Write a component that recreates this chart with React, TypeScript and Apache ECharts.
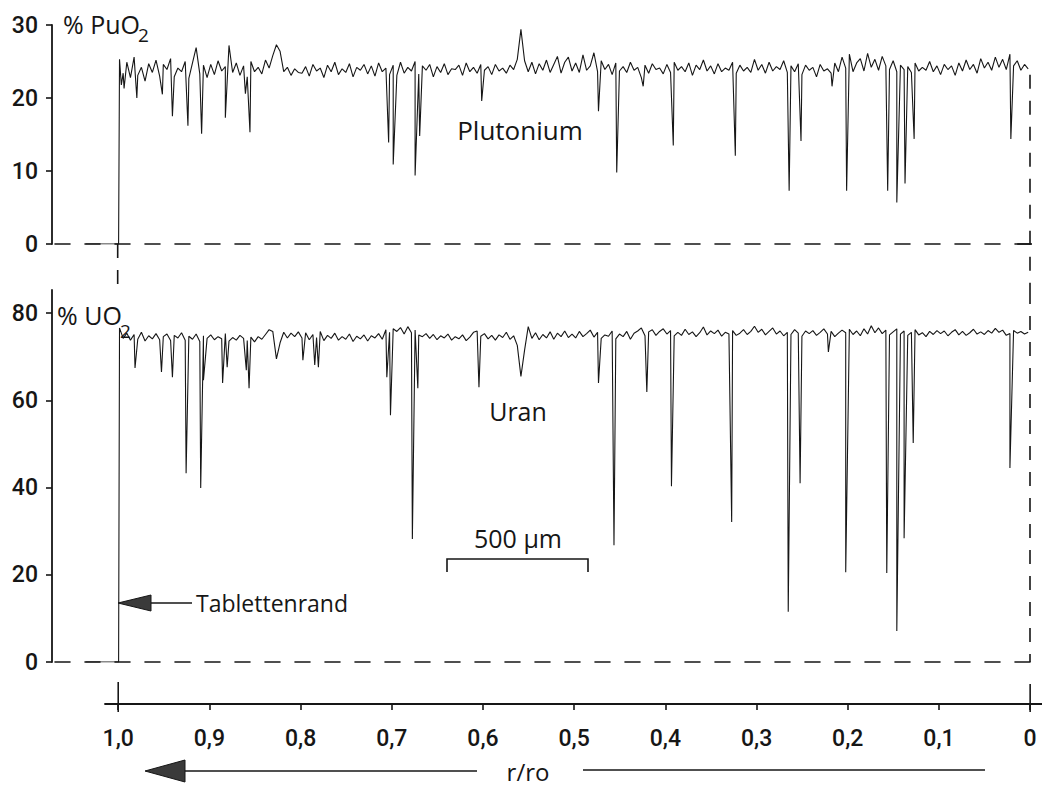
import React, { useEffect, useRef } from 'react';
import * as echarts from 'echarts';

// radial position sampling of the baseline trace (r/ro, decreasing)
const R_START = 0.998;
const R_STEP = 0.004;
// flat zero part left of the pellet edge
const LEAD_IN: number[][] = [[1.035, 0], [0.999, 0]];

// % PuO2 baseline readings (250 samples from r=0.998 to r=0.002)
const PU_BASE: number[] = [
  25.3, 23.4, 24.9, 22.8, 25.6, 23.1, 24.2, 22.3, 24.7, 23.5, 25.2, 23.0, 24.6, 23.9, 25.4, 22.9, 24.1, 23.6, 25.0, 22.7, 24.8, 26.9, 23.3, 24.5, 22.8,
  24.6, 23.2, 25.1, 23.7, 24.3, 27.2, 23.5, 24.8, 23.1, 24.4, 22.9, 25.0, 23.6, 24.2, 23.3, 25.2, 24.1, 25.8, 27.3, 26.4, 23.6, 24.2, 23.1, 24.0, 23.5,
  23.4, 24.3, 23.0, 24.6, 23.7, 24.1, 22.8, 24.5, 23.6, 24.9, 23.2, 24.0, 23.5, 24.7, 22.9, 24.2, 23.8, 24.6, 23.3, 24.4, 23.0, 24.8, 23.6, 24.1, 23.2,
  24.5, 23.1, 24.9, 23.4, 24.2, 23.7, 25.0, 23.3, 24.4, 23.8, 24.6, 22.9, 24.3, 23.5, 24.7, 23.2, 24.0, 23.9, 24.5, 23.1, 24.8, 23.6, 24.2, 23.4, 24.6,
  23.8, 24.3, 23.2, 24.6, 23.7, 24.1, 23.4, 24.5, 23.9, 25.3, 29.4, 25.1, 23.6, 24.9, 23.3, 24.7, 23.8, 25.2, 23.5, 24.6, 25.7, 23.4, 24.9, 25.6, 23.7,
  24.8, 23.5, 25.9, 23.8, 24.4, 26.2, 23.6, 25.1, 23.9, 24.6, 23.2, 24.8, 23.7, 24.3, 23.5, 24.9, 23.8, 24.2, 22.8, 24.5, 23.4, 24.7, 23.9, 24.1, 23.3,
  24.6, 23.5, 24.9, 23.8, 24.3, 23.6, 24.8, 23.1, 24.5, 23.9, 25.2, 23.7, 24.4, 23.3, 24.7, 23.6, 24.1, 23.8, 24.9, 23.4, 24.5, 23.7, 24.2, 23.5, 25.3,
  23.8, 24.6, 23.4, 24.9, 23.7, 24.3, 23.9, 25.1, 23.5, 24.4, 23.6, 24.7, 23.2, 24.5, 23.8, 24.2, 22.9, 24.6, 23.7, 24.0, 23.4, 24.8, 23.6, 25.6, 24.1,
  26.0, 23.6, 24.8, 25.4, 23.7, 26.1, 24.2, 25.3, 23.8, 25.7, 24.4, 23.9, 25.1, 23.6, 24.5, 23.9, 24.3, 23.5, 24.8, 23.7, 24.2, 23.8, 25.0, 23.6, 24.4,
  23.2, 24.6, 23.9, 24.4, 23.1, 24.8, 23.7, 25.2, 23.9, 24.6, 23.4, 25.4, 24.1, 24.9, 23.8, 25.6, 24.2, 25.3, 23.9, 26.0, 24.4, 25.1, 23.8, 24.6, 24.0,
];

// % PuO2 narrow minima [r/ro, value]
const PU_DIPS: number[][] = [
  [0.996, 21.8], [0.993, 21.3], [0.979, 20.0], [0.951, 20.5], [0.940, 17.5], [0.923, 16.2],
  [0.908, 15.1], [0.882, 17.3], [0.860, 20.6], [0.855, 15.3], [0.703, 13.9], [0.698, 10.9],
  [0.674, 9.4], [0.669, 14.8], [0.601, 19.6], [0.473, 18.2], [0.453, 9.8], [0.424, 21.6],
  [0.391, 13.5], [0.323, 12.1], [0.264, 7.3], [0.251, 14.1], [0.217, 21.6], [0.201, 7.3],
  [0.156, 7.3], [0.146, 5.7], [0.137, 8.3], [0.127, 14.4], [0.021, 14.4],
];

// % UO2 baseline readings (250 samples from r=0.998 to r=0.002)
const U_BASE: number[] = [
  76.6, 74.2, 75.4, 73.8, 75.1, 74.0, 75.6, 73.6, 74.8, 74.1, 75.3, 73.9, 74.6, 75.2, 73.7, 74.9, 74.3, 75.5, 73.8, 74.7, 74.0, 75.2, 73.5, 74.8, 74.2,
  75.0, 73.9, 74.6, 74.1, 75.3, 73.6, 74.4, 73.8, 74.9, 74.2, 73.7, 74.5, 73.4, 74.6, 74.0, 75.1, 76.2, 75.8, 69.5, 73.2, 75.6, 74.3, 75.4, 74.6, 75.7,
  74.3, 75.5, 73.9, 75.1, 74.4, 75.8, 73.7, 74.9, 74.2, 75.4, 73.8, 74.6, 74.0, 75.2, 73.5, 74.7, 74.1, 75.0, 73.6, 74.8, 74.3, 75.3, 74.0, 76.2, 75.6,
  76.4, 75.8, 76.7, 75.2, 76.9, 75.5, 76.1, 75.0, 74.6, 75.3, 74.2, 75.1, 73.9, 74.8, 74.3, 75.2, 73.8, 74.6, 74.1, 75.0, 73.7, 74.5, 75.6, 75.9, 74.7,
  75.3, 74.1, 74.9, 73.8, 75.0, 74.4, 75.6, 74.0, 74.8, 72.6, 65.5, 71.5, 76.9, 74.2, 75.5, 73.9, 75.1, 74.3, 75.7, 74.0, 75.4, 74.6, 75.9, 74.4, 75.2,
  74.3, 75.8, 74.6, 75.3, 76.1, 74.5, 75.6, 74.2, 75.0, 74.7, 75.9, 74.1, 75.2, 74.6, 75.8, 74.0, 75.4, 75.9, 76.6, 74.8, 75.7, 76.2, 74.9, 75.8, 76.4,
  75.2, 76.0, 74.8, 75.6, 74.9, 76.3, 75.1, 75.7, 74.6, 75.5, 76.8, 75.0, 75.9, 75.3, 76.1, 74.7, 75.6, 75.2, 76.0, 74.9, 75.4, 76.2, 75.1, 75.8, 77.0,
  75.6, 76.3, 75.0, 75.8, 76.6, 75.2, 75.9, 74.8, 75.6, 75.1, 76.2, 75.4, 74.7, 75.9, 75.3, 76.0, 74.9, 75.6, 76.4, 75.2, 75.8, 74.6, 75.4, 76.1, 75.5,
  76.3, 75.1, 75.9, 74.8, 76.4, 75.2, 77.1, 75.5, 76.6, 75.3, 76.1, 75.0, 75.7, 76.4, 75.2, 75.9, 74.9, 75.6, 76.2, 75.0, 75.5, 74.6, 75.8, 75.1, 76.0,
  75.3, 75.9, 74.8, 75.6, 76.2, 75.0, 75.8, 74.9, 75.5, 76.3, 75.2, 75.7, 75.1, 76.0, 75.4, 76.5, 75.6, 76.1, 74.9, 75.3, 76.0, 75.4, 75.8, 75.2, 75.6,
];

// % UO2 narrow minima [r/ro, value]
const U_DIPS: number[][] = [
  [0.981, 67.4], [0.952, 66.5], [0.940, 65.3], [0.925, 43.3], [0.909, 39.9], [0.906, 64.6],
  [0.885, 64.0], [0.880, 67.6], [0.859, 66.9], [0.856, 62.8], [0.797, 69.2], [0.784, 68.1],
  [0.780, 67.6], [0.705, 65.3], [0.701, 56.6], [0.677, 28.2], [0.671, 62.8], [0.604, 63.0],
  [0.473, 64.0], [0.456, 26.8], [0.420, 61.9], [0.393, 40.3], [0.327, 32.1], [0.265, 11.5],
  [0.252, 41.0], [0.221, 71.1], [0.202, 20.6], [0.157, 20.4], [0.146, 7.1], [0.138, 28.4],
  [0.128, 50.2], [0.022, 44.5],
];

const X_TICKS = [0, 0.1, 0.2, 0.3, 0.4, 0.5, 0.6, 0.7, 0.8, 0.9, 1.0];
const PU_TICKS = [0, 10, 20, 30];
const U_TICKS = [0, 20, 40, 60, 80];

const INK = '#161616';
const NUM_FONT = 'Roboto';
const TXT_FONT = 'Open Sans';

function buildTrace(base: number[], dips: number[][]): number[][] {
  const pts = base.map((v, i) => [+(R_START - i * R_STEP).toFixed(4), v]);
  const merged = pts.concat(dips).sort((a, b) => b[0] - a[0]);
  return LEAD_IN.concat(merged);
}

function auxLine(xi: number, yi: number, data: number[][], dashed: boolean) {
  return {
    type: 'line',
    xAxisIndex: xi,
    yAxisIndex: yi,
    data,
    symbol: 'none',
    silent: true,
    clip: false,
    lineStyle: { color: INK, width: 1.6, type: dashed ? [14, 12] : 'solid' },
    z: 3,
  };
}

function yAxisCfg(grid: number, max: number, ticks: number[]) {
  return {
    gridIndex: grid,
    type: 'value',
    min: 0,
    max,
    axisLine: { show: true, onZero: false, lineStyle: { color: INK, width: 1.8 } },
    axisTick: { show: true, length: 6, customValues: ticks, lineStyle: { color: INK, width: 1.6 } },
    axisLabel: {
      customValues: ticks,
      margin: 14,
      fontSize: 23,
      fontFamily: NUM_FONT,
      fontWeight: 500,
      color: INK,
    },
    splitLine: { show: false },
  };
}

function hiddenX(grid: number) {
  return {
    gridIndex: grid,
    type: 'value',
    min: 0,
    max: 1.072,
    inverse: true,
    axisLine: { show: true, lineStyle: { color: INK, width: 1.6, type: [15, 15] } },
    axisTick: { show: false },
    axisLabel: { show: false },
    splitLine: { show: false },
  };
}

export default function App() {
  const ref = useRef<HTMLDivElement>(null);
  useEffect(() => {
    if (!ref.current) return;
    const chart = echarts.init(ref.current, null, { renderer: 'svg' });
    const txt = (x: number, y: number, text: string, size: number, align = 'left') => ({
      type: 'text',
      x,
      y,
      silent: true,
      style: {
        text,
        x: 0,
        y: 0,
        fill: INK,
        fontSize: size,
        fontFamily: TXT_FONT,
        align,
        textAlign: align,
        verticalAlign: 'middle',
        textVerticalAlign: 'middle',
      },
    });
    const option = {
      animation: false,
      backgroundColor: '#ffffff',
      grid: [
        { left: 52, top: 25, width: 978, height: 219 },
        { left: 52, top: 290, width: 978, height: 372 },
        { left: 105, top: 682, width: 937, height: 30 },
      ],
      xAxis: [
        hiddenX(0),
        hiddenX(1),
        {
          gridIndex: 2,
          type: 'value',
          min: -0.013,
          max: 1.0145,
          inverse: true,
          axisLine: { show: true, onZero: true, lineStyle: { color: INK, width: 1.8 } },
          axisTick: { show: true, length: 6, customValues: X_TICKS, lineStyle: { color: INK, width: 1.6 } },
          axisLabel: {
            customValues: X_TICKS,
            margin: 15,
            fontSize: 23,
            fontFamily: NUM_FONT,
            fontWeight: 500,
            color: INK,
            formatter: (v: number) => (v === 0 ? '0' : v.toFixed(1).replace('.', ',')),
          },
          splitLine: { show: false },
        },
      ],
      yAxis: [
        yAxisCfg(0, 30, PU_TICKS),
        yAxisCfg(1, 85.3, U_TICKS),
        { gridIndex: 2, type: 'value', min: -8, max: 22, show: false },
      ],
      series: [
        {
          type: 'line',
          name: 'Plutonium',
          xAxisIndex: 0,
          yAxisIndex: 0,
          data: buildTrace(PU_BASE, PU_DIPS),
          symbol: 'none',
          lineStyle: { color: INK, width: 1.1 },
          z: 4,
        },
        {
          type: 'line',
          name: 'Uran',
          xAxisIndex: 1,
          yAxisIndex: 1,
          data: buildTrace(U_BASE, U_DIPS),
          symbol: 'none',
          lineStyle: { color: INK, width: 1.1 },
          z: 4,
        },
        // r = 0 dashed guide through both panels
        auxLine(0, 0, [[0, 23.2], [0, -6.3]], true),
        auxLine(1, 1, [[0, 85.3], [0, 0]], true),
        // r = 1 dashed guide between panels
        auxLine(0, 0, [[1, 0], [1, -6.3]], true),
        // cross at r = 0 on the Pu zero line
        auxLine(0, 0, [[0.014, 0], [-0.013, 0]], false),
        // crosses on the bottom r/ro axis
        auxLine(2, 2, [[1, 22], [1, -8]], false),
        auxLine(2, 2, [[0, 20], [0, -8]], false),
      ],
      graphic: [
        txt(63, 24, '% PuO', 25),
        txt(138, 35, '2', 19),
        txt(57, 315, '% UO', 25),
        txt(120, 331, '2', 19),
        txt(520, 130, 'Plutonium', 26, 'center'),
        txt(518, 411, 'Uran', 25, 'center'),
        txt(518, 538, '500 µm', 25, 'center'),
        txt(196, 603, 'Tablettenrand', 23),
        txt(528, 771, 'r/ro', 24, 'center'),
        {
          type: 'polyline',
          silent: true,
          shape: { points: [[447, 572], [447, 559], [588, 559], [588, 572]] },
          style: { stroke: INK, lineWidth: 1.6, fill: null },
        },
        {
          type: 'polygon',
          silent: true,
          shape: { points: [[118, 603], [151, 595], [151, 611]] },
          style: { fill: '#3a3a3a', stroke: INK, lineWidth: 1 },
        },
        {
          type: 'line',
          silent: true,
          shape: { x1: 151, y1: 603, x2: 192, y2: 603 },
          style: { stroke: INK, lineWidth: 1.6 },
        },
        {
          type: 'polygon',
          silent: true,
          shape: { points: [[145, 771], [185, 760], [185, 782]] },
          style: { fill: '#3a3a3a', stroke: INK, lineWidth: 1 },
        },
        {
          type: 'line',
          silent: true,
          shape: { x1: 185, y1: 771, x2: 477, y2: 771 },
          style: { stroke: INK, lineWidth: 1.6 },
        },
        {
          type: 'line',
          silent: true,
          shape: { x1: 583, y1: 770, x2: 985, y2: 770 },
          style: { stroke: INK, lineWidth: 1.6 },
        },
      ],
    };
    chart.setOption(option as any);
    return () => chart.dispose();
  }, []);
  return (
    <div
      ref={ref}
      style={{ position: 'absolute', left: 0, top: 0, width: 1042, height: 786 }}
    />
  );
}
